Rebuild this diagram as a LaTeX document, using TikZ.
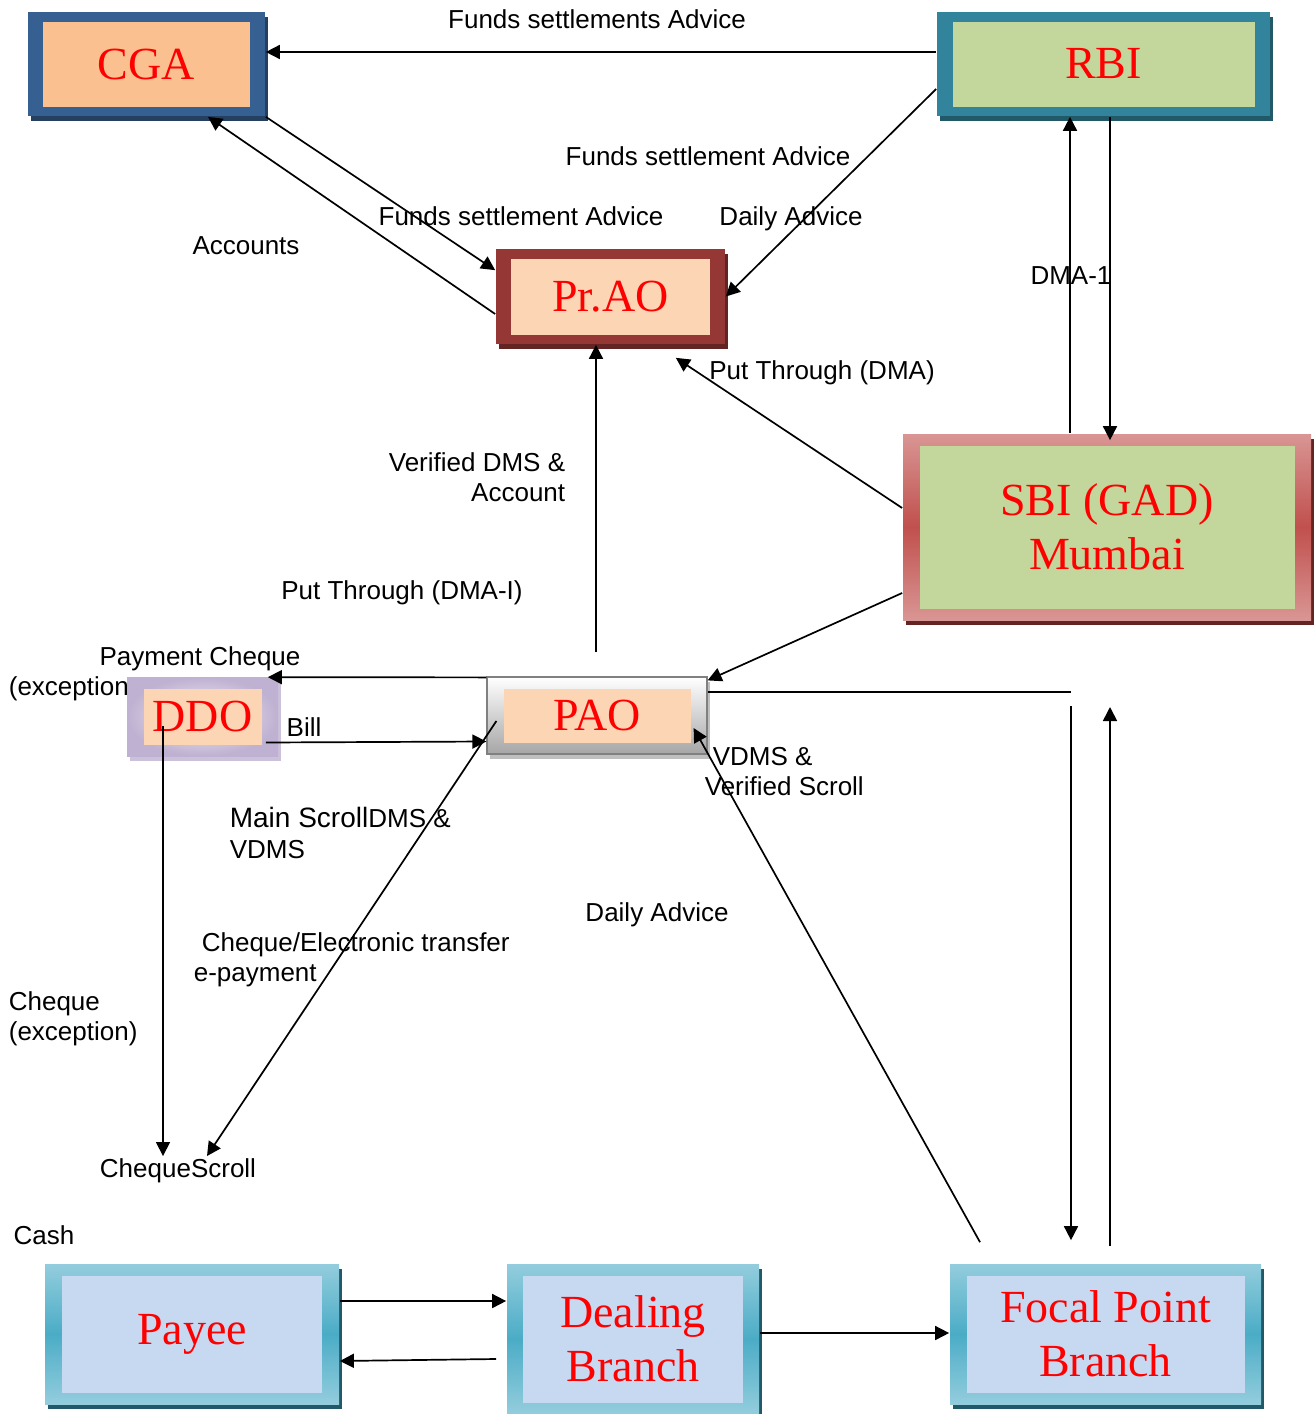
\documentclass[tikz,border=0pt]{standalone}
\usepackage{fontspec}
\setmainfont{Liberation Sans}
\newfontfamily\serifbox{Liberation Serif}
\usepackage{tikz}
\usetikzlibrary{arrows.meta,shadows}
\definecolor{cgaedge}{HTML}{376092}
\definecolor{cgashade}{HTML}{243F60}
\definecolor{cgafill}{HTML}{FAC090}
\definecolor{rbiedge}{HTML}{31849B}
\definecolor{rbishade}{HTML}{215968}
\definecolor{leaf}{HTML}{C3D69B}
\definecolor{praoedge}{HTML}{953735}
\definecolor{praoshade}{HTML}{632523}
\definecolor{peach}{HTML}{FCD5B5}
\definecolor{sbilight}{HTML}{D99694}
\definecolor{sbidark}{HTML}{C0504D}
\definecolor{ddolight}{HTML}{F4F1F8}
\definecolor{ddodark}{HTML}{BFB1D1}
\definecolor{ddoshade}{HTML}{CCC1DA}
\definecolor{skylight}{HTML}{93CDDD}
\definecolor{skydark}{HTML}{4BACC6}
\definecolor{skyfill}{HTML}{C6D9F1}

\begin{document}
\begin{tikzpicture}[x=0.5pt,y=-0.5pt,line width=0.85pt,>={Triangle[length=7pt,width=7pt]},
		blk/.style n args={5}{rectangle,inner sep=0pt,align=center,text=red,
			font=\serifbox\fontsize{23}{27}\selectfont,
			minimum width=#1*0.5pt,minimum height=#2*0.5pt,
			path picture={\fill[#3] ([xshift=#4*0.5pt,yshift=-#5*0.5pt]path picture bounding box.north west)
				rectangle ([xshift=-#4*0.5pt,yshift=#5*0.5pt]path picture bounding box.south east);}},
		shadowed/.style={drop shadow={shadow xshift=1.5pt,shadow yshift=-2.5pt,opacity=1,fill=#1}},
		band/.style 2 args={top color=#1,bottom color=#1,middle color=#2},
		lbl/.style={inner sep=0pt,font=\fontsize{13}{15}\selectfont}]
	\useasboundingbox (0,0) rectangle (1314,1414);
	\node[blk={237}{104}{cgafill}{15}{9.5},fill=cgaedge,shadowed=cgashade] (cga) at (146.5,64) {CGA};
	\node[blk={333}{104}{leaf}{15.5}{9.5},fill=rbiedge,shadowed=rbishade] (rbi) at (1103.5,64) {RBI};
	\node[blk={229}{95}{peach}{15}{9.5},fill=praoedge,shadowed=praoshade] (prao) at (610.5,296.5) {Pr.AO};
	\node[blk={408}{186}{leaf}{16.5}{11.5},band={sbilight}{sbidark},shadowed=praoshade] (sbi) at (1107,527) {SBI (GAD)\\Mumbai};
	\node[blk={151}{79}{peach}{16.5}{11.5},inner color=ddolight,outer color=ddodark,shadowed=ddoshade] (ddo) at (202.5,716.5) {DDO};
	\node[blk={220}{77}{peach}{16.5}{11.5},top color=white,bottom color=black!35,draw=black!50,line width=0.6pt,shadowed=black!25] (pao) at (597,715.5) {PAO};
	\node[blk={294}{140}{skyfill}{17}{11.5},band={skylight}{skydark},shadowed=rbishade] (payee) at (192,1334) {Payee};
	\node[blk={252}{150}{skyfill}{16}{11.5},band={skylight}{skydark},shadowed=rbishade] (deal) at (633,1339) {Dealing\\Branch};
	\node[blk={311}{140}{skyfill}{16.5}{11.5},band={skylight}{skydark},shadowed=rbishade] (focal) at (1105.5,1334) {Focal Point\\Branch};
	\node[lbl] (fsa) at (597,19) {Funds settlements Advice};
	\node[lbl] (fsb) at (708,156) {Funds settlement Advice};
	\node[lbl] (fsc) at (521,216) {Funds settlement Advice};
	\node[lbl] (dailyup) at (791,219) {Daily Advice};
	\node[lbl] (acc) at (246,246) {Accounts};
	\node[lbl] (dma) at (1071,276) {DMA-1};
	\node[lbl] (ptdma) at (822,373) {Put Through (DMA)};
	\node[lbl,anchor=east,align=right] (vdms) at (566,477) {Verified DMS \&\\Account};
	\node[lbl] (ptdmai) at (402,593) {Put Through (DMA-I)};
	\node[lbl] (paych) at (200,659) {Payment Cheque};
	\node[lbl,anchor=west] (payexc) at (8,689) {(exception};
	\node[lbl] (bill) at (304,727) {Bill};
	\node[lbl,anchor=west,align=left,font=\fontsize{13}{15.5}\selectfont] (mainsc) at (229,833) {{\fontsize{14}{15.5}\selectfont Main Scroll}DMS \&\\VDMS};
	\node[lbl,anchor=west,align=left] (verscr) at (704,772) {\hspace{4pt}VDMS \&\\Verified Scroll};
	\node[lbl] (dailylow) at (657,915) {Daily Advice};
	\node[lbl,anchor=west,align=left] (epay) at (193,959.5) {\hspace{4pt}Cheque/Electronic transfer\\e-payment};
	\node[lbl,anchor=west,align=left] (chexc) at (8,1019) {Cheque\\(exception)};
	\node[lbl] (chq) at (178,1171) {ChequeScroll};
	\node[lbl] (cash) at (44,1235) {Cash};
	\coordinate (elbow) at (1071,692);
	\coordinate (drop) at (1071,706);
	\coordinate (rise) at (1110,707);
	\path[->]
	([yshift=6pt]rbi.west) edge ([yshift=6pt]cga.east)
	(cga.south east) edge ([yshift=-11pt]prao.north west)
	([yshift=-8.75pt]prao.west) edge ([xshift=30.75pt]cga.south)
	([yshift=-12.5pt]rbi.west) edge (prao.east)
	([xshift=-18.5pt]sbi.north) edge ([xshift=-18.5pt]sbi.north |- rbi.south)
	([xshift=3.25pt]rbi.south) edge ([xshift=1.5pt,yshift=-3.5pt]sbi.north)
	([yshift=9.5pt]sbi.west) edge ([shift={(-25pt,-6.5pt)}]prao.south east)
	([yshift=-33pt]sbi.west) edge ([yshift=-2pt]pao.north east)
	([xshift=-0.5pt,yshift=12pt]pao.north) edge ([xshift=-7.25pt]prao.south)
	([yshift=-0.5pt]pao.north west) edge ([shift={(-5.5pt,-0.5pt)}]ddo.north east)
	([shift={(-6.5pt,-13pt)}]ddo.east) edge ([yshift=-13pt]pao.west)
	([shift={(-19.75pt,-4.75pt)}]ddo.center) edge ([xshift=-7.5pt,yshift=1pt]chq.north)
	([shift={(5pt,-2.75pt)}]pao.west) edge ([xshift=14.5pt,yshift=1pt]chq.north)
	([shift={(-62.75pt,10.5pt)}]focal.north) edge ([shift={(-7pt,-6.25pt)}]pao.east)
	(drop) edge ([shift={(-17.25pt,11.5pt)}]focal.north)
	([shift={(2.25pt,8.5pt)}]focal.north) edge (rise)
	([yshift=16.5pt]payee.east) edge ([yshift=19pt]deal.west)
	([shift={(-5pt,-10pt)}]deal.west) edge ([yshift=-13.5pt]payee.east)
	([yshift=3pt]deal.east) edge ([yshift=0.5pt]focal.west);
	\draw ([yshift=11.75pt]pao.east) -- (elbow);
\end{tikzpicture}
\end{document}
